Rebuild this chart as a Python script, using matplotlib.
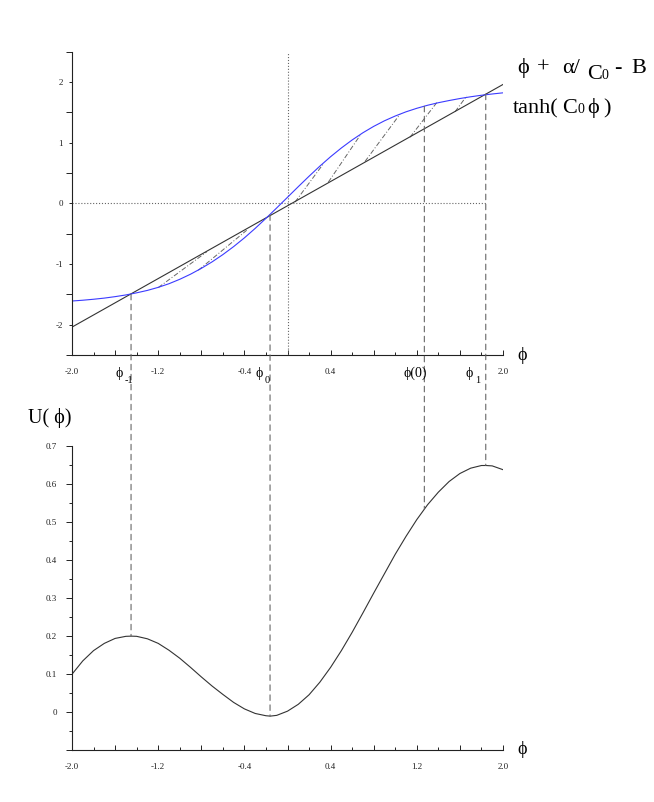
import numpy as np
import matplotlib
matplotlib.use("Agg")
import matplotlib.pyplot as plt
from matplotlib.patches import ConnectionPatch
from matplotlib.ticker import MultipleLocator, FixedLocator

plt.rcParams['font.family'] = ['Liberation Serif', 'DejaVu Serif']
plt.rcParams['axes.unicode_minus'] = False

# straight line  phi + alpha/C0 - B
line_x = [-2.0, 2.0]
line_y = [-2.04, 1.96]

# tanh(C0 phi) curve
tanh_x = [-2.0, -1.9, -1.8, -1.7, -1.6, -1.5, -1.4, -1.3, -1.2, -1.1,
          -1.0, -0.9, -0.8, -0.7, -0.6, -0.5, -0.4, -0.3, -0.2, -0.1,
          0.0, 0.1, 0.2, 0.3, 0.4, 0.5, 0.6, 0.7, 0.8, 0.9,
          1.0, 1.1, 1.2, 1.3, 1.4, 1.5, 1.6, 1.7, 1.8, 1.9, 2.0]
tanh_y = [-1.610, -1.597, -1.581, -1.562, -1.538, -1.510, -1.475, -1.435, -1.385, -1.325,
          -1.252, -1.168, -1.072, -0.965, -0.845, -0.713, -0.569, -0.413, -0.247, -0.075,
          0.100, 0.275, 0.447, 0.613, 0.769, 0.913, 1.045, 1.164, 1.269, 1.361,
          1.440, 1.509, 1.567, 1.617, 1.659, 1.695, 1.728, 1.757, 1.782, 1.803, 1.822]

# dash-dot iteration segments
seg_x0 = [-1.199, -0.828, 0.070, 0.379, 0.719, 1.137, 1.555]
seg_y0 = [-1.388, -1.103, 0.021, 0.350, 0.690, 1.090, 1.510]
seg_x1 = [-0.750, -0.379, 0.332, 0.673, 1.044, 1.385, 1.663]
seg_y1 = [-0.800, -0.444, 0.650, 1.119, 1.470, 1.660, 1.770]

# potential U(phi)
u_x = [-2.0, -1.9, -1.8, -1.7, -1.6, -1.5, -1.45, -1.4, -1.3, -1.2,
       -1.1, -1.0, -0.9, -0.8, -0.7, -0.6, -0.5, -0.4, -0.3, -0.2,
       -0.16, -0.1, 0.0, 0.1, 0.2, 0.3, 0.4, 0.5, 0.6, 0.7,
       0.8, 0.9, 1.0, 1.1, 1.2, 1.3, 1.4, 1.5, 1.6, 1.7,
       1.8, 1.84, 1.9, 2.0]
u_y = [0.100, 0.135, 0.162, 0.181, 0.194, 0.1995, 0.200, 0.1995, 0.193, 0.181,
       0.163, 0.142, 0.118, 0.093, 0.069, 0.047, 0.026, 0.009, -0.003, -0.009,
       -0.010, -0.008, 0.003, 0.021, 0.046, 0.079, 0.118, 0.162, 0.210, 0.261,
       0.313, 0.364, 0.415, 0.462, 0.506, 0.545, 0.578, 0.606, 0.627, 0.641,
       0.648, 0.648, 0.647, 0.637]

# special points: phi_-1, phi_0, phi(0), phi_1
crit_x = [-1.452, -0.162, 1.27, 1.84]
crit_top = [-1.50, -0.19, 1.60, 1.80]
crit_u = [0.200, -0.010, 0.533, 0.648]

x_ticks = [-2.0, -1.6, -1.2, -0.8, -0.4, 0.0, 0.4, 0.8, 1.2, 1.6, 2.0]
top_xlabels = ['-2.0', '', '-1.2', '', '-0.4', '', '0.4', '', '', '', '2.0']
bot_xlabels = ['-2.0', '', '-1.2', '', '-0.4', '', '0.4', '', '1.2', '', '2.0']
top_yticks = [-2, -1, 0, 1, 2]
top_ylabels = ['-2', '-1', '0', '1', '2']
bot_yticks = [-0.1, 0.0, 0.1, 0.2, 0.3, 0.4, 0.5, 0.6, 0.7]
bot_ylabels = ['', '0', '0.1', '0.2', '0.3', '0.4', '0.5', '0.6', '0.7']

W, H = 654, 802
fig = plt.figure(figsize=(W / 100, H / 100), dpi=100)

ax1 = fig.add_axes([72 / W, 1 - 355 / H, 431 / W, 303.3 / H])
ax2 = fig.add_axes([72 / W, 1 - 750.4 / H, 431 / W, 304.7 / H])

axis_col = '#222222'
for ax, xl in ((ax1, top_xlabels), (ax2, bot_xlabels)):
    ax.spines['top'].set_visible(False)
    ax.spines['right'].set_visible(False)
    for s in ('left', 'bottom'):
        ax.spines[s].set_color(axis_col)
        ax.spines[s].set_linewidth(0.8)
    ax.set_xlim(-2, 2)
    ax.set_xticks(x_ticks)
    ax.set_xticklabels(xl)
    ax.xaxis.set_minor_locator(MultipleLocator(0.2))
    ax.tick_params(axis='x', which='major', direction='in', length=3.8,
                   width=0.7, pad=9, labelsize=6.5, colors=axis_col)
    ax.tick_params(axis='x', which='minor', direction='in', length=2.2,
                   width=0.7, colors=axis_col)
    ax.patch.set_alpha(0)

# ---- top panel
ax1.set_ylim(-2.5, 2.5)
ax1.set_yticks(top_yticks)
ax1.set_yticklabels(top_ylabels)
ax1.yaxis.set_minor_locator(FixedLocator([-2.5, -1.5, -0.5, 0.5, 1.5, 2.5]))
ax1.tick_params(axis='y', which='major', direction='out', length=2.0,
                width=0.7, pad=4.5, labelsize=6.5, colors=axis_col)
ax1.tick_params(axis='y', which='minor', direction='out', length=4.2,
                width=0.7, colors=axis_col)

ax1.plot([0, 0], [-2.5, 2.5], ':', color='#666666', lw=0.8)
ax1.plot([-2.0, crit_x[3]], [0, 0], ':', color='#666666', lw=0.8)
for i in range(len(seg_x0)):
    ax1.plot([seg_x0[i], seg_x1[i]], [seg_y0[i], seg_y1[i]],
             color='#666666', lw=0.7, dashes=(5, 2, 1, 2))
ax1.plot(line_x, line_y, color='#333333', lw=0.8)
ax1.plot(tanh_x, tanh_y, color='#3b3bff', lw=0.8)

# ---- bottom panel
ax2.set_ylim(-0.1, 0.7)
ax2.set_yticks(bot_yticks)
ax2.set_yticklabels(bot_ylabels)
ax2.yaxis.set_minor_locator(MultipleLocator(0.05))
ax2.tick_params(axis='y', which='major', direction='out', length=4.3,
                width=0.7, pad=6.5, labelsize=6.5, colors=axis_col)
ax2.tick_params(axis='y', which='minor', direction='out', length=2.2,
                width=0.7, colors=axis_col)
ax2.plot(u_x, u_y, color='#333333', lw=0.8)

# dashed drop lines linking both panels
for i in range(len(crit_x)):
    con = ConnectionPatch(xyA=(crit_x[i], crit_top[i]), coordsA=ax1.transData,
                          xyB=(crit_x[i], crit_u[i]), coordsB=ax2.transData,
                          color='#666666', lw=0.8, linestyle=(0, (5, 4)))
    fig.add_artist(con)


def ftext(x, y, s, size, **kw):
    fig.text(x / W, 1 - y / H, s, fontsize=size, color='black', **kw)


# formula labels
ftext(517, 73, 'ϕ', 16, va='baseline')
ftext(537, 73, '+', 16, va='baseline')
ftext(562, 73, 'α/', 16, va='baseline')
ftext(587, 79, 'C', 16, va='baseline')
ftext(601, 79, '0', 10, va='baseline')
ftext(614, 73, '-', 16, va='baseline')
ftext(631, 73, 'B', 16, va='baseline')

ftext(513, 113, 'tanh(', 16, va='baseline')
ftext(562, 113, 'C', 16, va='baseline')
ftext(577, 113, '0', 10, va='baseline')
ftext(587, 113, 'ϕ', 16, va='baseline')
ftext(603, 113, ')', 16, va='baseline')

# axis labels
ftext(517, 355, 'ϕ', 13, va='center')
ftext(517, 749, 'ϕ', 13, va='center')
ftext(28, 418, 'U( ϕ)', 14.5, va='center')

# special point labels
ftext(116, 377, 'ϕ', 10, va='baseline')
ftext(125, 383, '-1', 7.5, va='baseline')
ftext(256, 377, 'ϕ', 10, va='baseline')
ftext(265, 383, '0', 7.5, va='baseline')
ftext(404, 377, 'ϕ(0)', 10, va='baseline')
ftext(466, 377, 'ϕ', 10, va='baseline')
ftext(475, 383, '1', 7.5, va='baseline')

fig.savefig('out.png', dpi=100)
